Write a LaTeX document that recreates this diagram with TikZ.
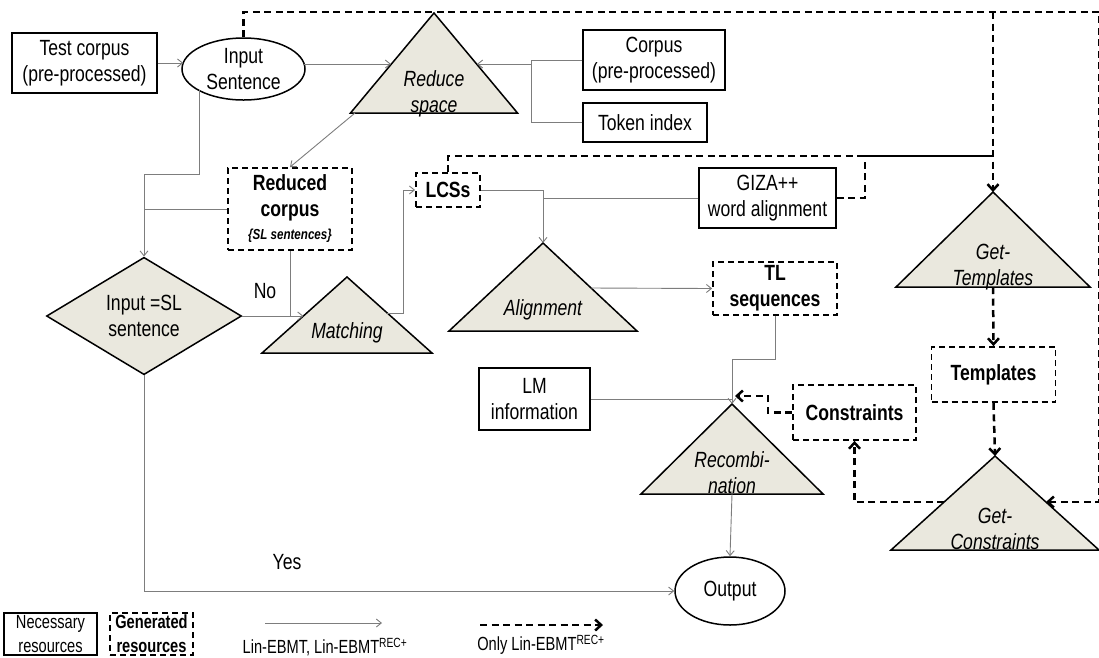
\documentclass[tikz,border=0pt]{standalone}
\usepackage{fontspec}
\setmainfont{Liberation Sans}[FakeStretch=0.8]
\newfontfamily\legendfont{Liberation Sans}[FakeStretch=0.77]
\usetikzlibrary{arrows.meta,shapes.geometric}

\definecolor{procfill}{RGB}{234,232,222}
\definecolor{flowgray}{RGB}{125,125,125}

\newcommand\mainsize{\fontsize{22}{26}\selectfont}
\newcommand\legendsize{\legendfont\fontsize{19}{24}\selectfont}

% process triangle: name, centre x, apex y, base y, half width
\newcommand\proctri[5]{%
  \coordinate (#1-a) at (#2,#3);
  \coordinate (#1-l) at (#2-#5,#4);
  \coordinate (#1-r) at (#2+#5,#4);
  \coordinate (#1-b) at (#2,#4);
  \filldraw[tri] (#1-a) -- (#1-r) -- (#1-l) -- cycle;
}

\tikzset{
  every node/.style={font=\mainsize, align=center, inner sep=0pt},
  needed/.style={draw=black, line width=1.5pt, rectangle},
  made/.style={draw=black, line width=1.8pt, dash pattern=on 6pt off 4pt, rectangle, font=\mainsize\bfseries},
  circ/.style={draw=black, line width=1.5pt, ellipse},
  decision/.style={draw=black, line width=1.5pt, diamond, fill=procfill},
  tri/.style={draw=black, line width=1.5pt, fill=procfill, line join=miter},
  proclabel/.style={font=\mainsize\itshape},
  flow/.style={draw=flowgray, line width=0.9pt},
  flowarrow/.style={flow, -{Straight Barb[length=5pt,width=8pt]}},
  extra/.style={draw=black, line width=2.5pt, dash pattern=on 7pt off 4.5pt},
  extraarrow/.style={extra, -{Straight Barb[length=6pt,width=11pt]}},
}

\begin{document}
\begin{tikzpicture}[x=1pt, y=-1pt]
\useasboundingbox (0,0) rectangle (1099,657);

% ---- process triangles
\proctri{reduce}{434}{13}{113}{83.5}
\proctri{match}{347}{277}{353}{85}
\proctri{align}{543}{243}{331}{94}
\proctri{recomb}{732}{404}{494}{91}
\proctri{gettpl}{993}{192}{287}{97}
\proctri{getcon}{995}{456}{550}{104}

\node[proclabel] (reduce-t) at (434,93.5) {Reduce\\space};
\node[proclabel] (match-t) at (347,333) {Matching};
\node[proclabel] (align-t) at (543,310) {Alignment};
\node[proclabel] (recomb-t) at (732,472.5) {Recombi-\\nation};
\node[proclabel] (gettpl-t) at (993,267.5) {Get-\\Templates};
\node[proclabel] (getcon-t) at (995,528.5) {Get-\\Constraints};

% ---- resources and data
\node[needed, minimum width=145pt, minimum height=60pt] (test) at (84.5,63) {Test corpus\\(pre-processed)};
\node[circ, minimum width=123pt, minimum height=62pt] (input) at (243.5,69) {Input\\Sentence};
\node[needed, minimum width=142pt, minimum height=60pt] (corpus) at (654,60) {Corpus\\(pre-processed)};
\node[needed, minimum width=124pt, minimum height=39pt] (tokens) at (645,122.5) {Token index};
\node[made, minimum width=124pt, minimum height=82pt] (reduced) at (290,209)
  {Reduced\\corpus\\[-3pt]{\fontsize{14.5}{15}\selectfont\itshape\{SL sentences\}}};
\node[made, minimum width=64pt, minimum height=34pt] (lcs) at (448,190) {LCSs};
\node[needed, minimum width=137pt, minimum height=60pt] (giza) at (767.5,198) {GIZA++\\word alignment};
\node[made, minimum width=124pt, minimum height=53pt] (tl) at (775,288.5) {TL\\sequences};
\node[needed, minimum width=111pt, minimum height=62pt] (lm) at (534.5,399) {LM\\information};
\node[made, minimum width=123pt, minimum height=55pt] (cons) at (854.5,412.5) {Constraints};
\node[made, minimum width=124pt, minimum height=55pt] (templ) at (993.5,374.5) {Templates};
\node[circ, minimum width=110pt, minimum height=68pt] (output) at (730,591) {Output};
\node[decision, minimum width=195pt, minimum height=117pt] (same) at (144,316) {Input =SL\\sentence};

% ---- common flow (both systems)
\coordinate (input-w) at (183.2,63);
\draw[flowarrow] (test.east) -- (input-w);

\coordinate (input-e) at (304.2,64);
\coordinate (reduce-in) at (391,64);
\draw[flowarrow] (input-e) -- (reduce-in);

\coordinate (res-join) at (531,64);
\coordinate (reduce-rin) at (477,64);
\draw[flow] (corpus.west) -| (res-join);
\draw[flow] (tokens.west) -| (res-join);
\draw[flowarrow] (res-join) -- (reduce-rin);

\coordinate (reduce-out) at (355,113);
\draw[flowarrow] (reduce-out) -- (reduced.north);

\coordinate (input-sw) at (199,90.4);
\coordinate (split) at (144,174);
\draw[flowarrow] (input-sw) |- (split) -- (same.north);
\draw[flow] (reduced.west) -- (reduced.west -| split);

\coordinate (match-in) at (303.4,316);
\draw[flowarrow] (same.east) -- (match-in);
\draw[flow] (reduced.south) -- (reduced.south |- match-in);
\node (no) at (265,291) {No};

\coordinate (match-out) at (387,313);
\coordinate (lcs-bend) at (403,190);
\draw[flowarrow] (match-out) -| (lcs-bend) -- (lcs.west);

\coordinate (lcs-bend2) at (543,190);
\draw[flowarrow] (lcs.east) -- (lcs-bend2) -- (align-a);
\draw[flow] (giza.west) -- (giza.west -| align-a);

\coordinate (align-out) at (591,288);
\draw[flowarrow] (align-out) -- (tl.west);

\coordinate (tl-bend) at (732,359);
\draw[flowarrow] (tl.south) |- (tl-bend) -- (recomb-a);
\draw[flow] (lm.east) -- (lm.east -| recomb-a);

\draw[flowarrow] (recomb-b) -- (output.north);

\coordinate (yes-corner) at (144,591);
\draw[flowarrow] (same.south) -- (yes-corner) -- (output.west);
\node (yes) at (287,562) {Yes};

% ---- extra flow (REC+ only)
\coordinate (top-l) at (243.5,12);
\coordinate (top-r) at (1099.6,12);
\coordinate (getcon-in) at (1046,502);
\draw[extraarrow] (input.north) -- (top-l) -- (top-r) -- (top-r |- getcon-in) -- (getcon-in);

\coordinate (tpl-drop) at (993,12);
\draw[extraarrow] (tpl-drop) -- (gettpl-a);

\coordinate (lcs-up) at (448,156);
\coordinate (tpl-join) at (993,156);
\draw[extra] (lcs.north) -- (lcs-up) -- (tpl-join);
\coordinate (giza-bend) at (865,198);
\draw[extra] (giza.east) -- (giza-bend) |- (tpl-join);

\draw[extraarrow] (gettpl-b) -- (templ.north);
\draw[extraarrow] (templ.south) -- (getcon-a);

\coordinate (getcon-out) at (944,502);
\draw[extraarrow] (getcon-out) -| (cons.south);

\coordinate (cons-bend) at (768,396);
\coordinate (recomb-in) at (735,396);
\draw[extraarrow] (cons.west) -| (cons-bend) -- (recomb-in);

% ---- legend
\node[needed, minimum width=93pt, minimum height=42pt, font=\legendsize] (lg-need) at (50.5,634) {Necessary\\resources};
\node[made, minimum width=83pt, minimum height=42pt, font=\legendsize\bfseries] (lg-made) at (151.5,634) {Generated\\resources};
\coordinate (lg-a1) at (265,623);
\coordinate (lg-a2) at (382,623);
\draw[flowarrow] (lg-a1) -- (lg-a2);
\node[font=\legendsize] (lg-t1) at (325,647) {Lin-EBMT, Lin-EBMT\textsuperscript{REC+}};
\coordinate (lg-b1) at (480,625);
\coordinate (lg-b2) at (603,625);
\draw[extraarrow] (lg-b1) -- (lg-b2);
\node[font=\legendsize] (lg-t2) at (541,645) {Only Lin-EBMT\textsuperscript{REC+}};
\end{tikzpicture}
\end{document}
